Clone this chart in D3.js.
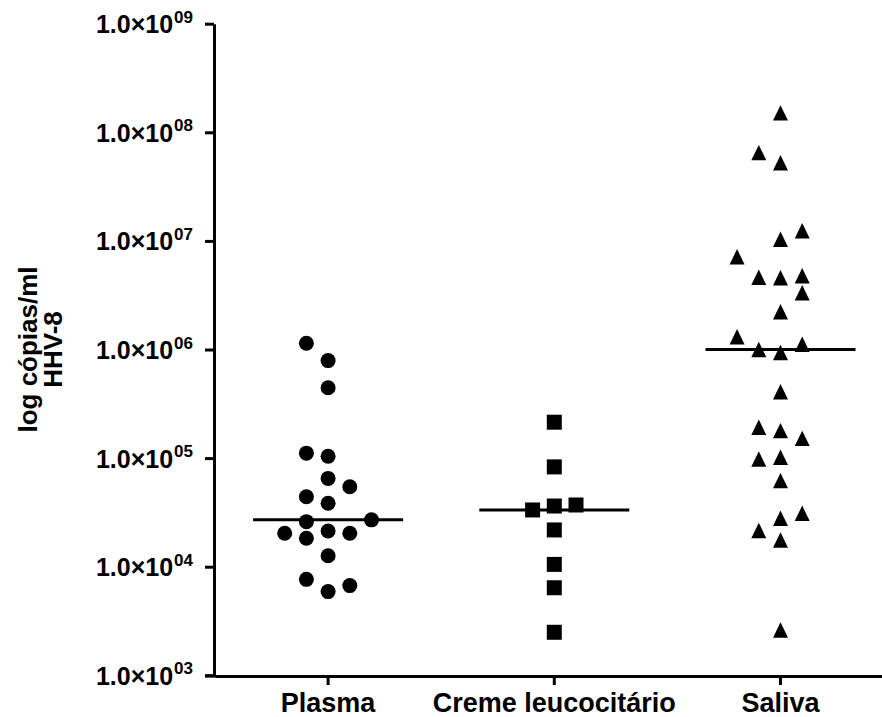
<!DOCTYPE html>
<html>
<head>
<meta charset="utf-8">
<script src="https://cdn.jsdelivr.net/npm/d3@7"></script>
<style>
  html, body { margin: 0; padding: 0; background: #fff; }
  svg { display: block; }
  text { font-family: "Liberation Sans", Arial, Helvetica, sans-serif; font-weight: bold; fill: #000; }
</style>
</head>
<body>
<svg id="chart" width="882" height="717"></svg>
<script>
// ---------------- data ----------------
const categories = ["Plasma", "Creme leucocitário", "Saliva"];

const plasmaValues = [1.14e6, 7.9e5, 4.45e5, 1.11e5, 1.04e5, 6.5e4, 5.45e4, 4.4e4, 3.84e4, 2.6e4,
                      2.7e4, 2.03e4, 1.83e4, 2.13e4, 2.03e4, 1.26e4, 7.65e3, 5.9e3, 6.7e3];
const plasmaSlots  = [-1, 0, 0, -1, 0, 0, 1, -1, 0, -1, 2, -2, -1, 0, 1, 0, -1, 0, 1];

const cremeValues = [2.14e5, 8.3e4, 3.33e4, 3.62e4, 3.70e4, 2.18e4, 1.05e4, 6.4e3, 2.49e3];
const cremeSlots  = [0, 0, -1, 0, 1, 0, 0, 0, 0];

const salivaValues = [1.51e8, 6.5e7, 5.25e7, 1.24e7, 1.035e7, 7.15e6, 4.62e6, 4.58e6, 4.78e6, 3.33e6,
                      2.23e6, 1.31e6, 1.0e6, 9.4e5, 1.12e6, 4.09e5, 1.92e5, 1.79e5, 1.52e5, 9.8e4,
                      1.02e5, 6.2e4, 3.1e4, 2.79e4, 2.15e4, 1.76e4, 2.61e3];
const salivaSlots  = [0, -1, 0, 1, 0, -2, -1, 0, 1, 1, 0, -2, -1, 0, 1, 0, -1, 0, 1, -1, 0, 0, 1, 0, -1, 0, 0];

const yTickValues = [1e3, 1e4, 1e5, 1e6, 1e7, 1e8, 1e9];
const yTickMantissa = "1.0×10";
const yTickExponents = ["03", "04", "05", "06", "07", "08", "09"];

const yTitleLines = ["log cópias/ml", "HHV-8"];

// ---------------- layout ----------------
const svg = d3.select("#chart");
const axisX = 214, axisY = 676;
const yTop = 23.7, yBottom = 675.3;
const markerSize = 15;
const slotStep = 21.7;
const medianHalf = 75;

const y = d3.scaleLog().domain([1e3, 1e9]).range([yBottom, yTop]);
const x = d3.scaleBand().domain(categories).range([215, 893.6]).paddingInner(0).paddingOuter(0);
const jitter = d3.scaleLinear().domain([-1, 1]).range([-slotStep, slotStep]);

const groups = [
  { cat: categories[0], values: plasmaValues, slots: plasmaSlots, shape: "circle" },
  { cat: categories[1], values: cremeValues, slots: cremeSlots, shape: "square" },
  { cat: categories[2], values: salivaValues, slots: salivaSlots, shape: "triangle" }
];

// custom triangle symbol (bbox-centred, slightly taller than equilateral)
const triangleType = {
  draw(ctx, size) {
    const w = Math.sqrt(size), h = w * 1.03;
    ctx.moveTo(0, -h / 2);
    ctx.lineTo(w / 2, h / 2);
    ctx.lineTo(-w / 2, h / 2);
    ctx.closePath();
  }
};
const shapeFor = {
  circle: d3.symbol(d3.symbolCircle, Math.PI * (markerSize / 2) ** 2),
  square: d3.symbol(d3.symbolSquare, markerSize * markerSize),
  triangle: d3.symbol(triangleType, markerSize * markerSize)
};

// ---------------- axes ----------------
const yAxis = d3.axisLeft(y).tickValues(yTickValues).tickSize(9).tickSizeOuter(0).tickFormat("");
const gy = svg.append("g").attr("transform", `translate(${axisX},0)`).call(yAxis);
gy.select(".domain").attr("stroke-width", 3);
gy.selectAll(".tick line").attr("stroke-width", 3);
gy.selectAll(".tick text").remove();
gy.selectAll(".tick").each(function(d, i) {
  const t = d3.select(this).append("text")
    .attr("x", -21).attr("y", 9)
    .attr("text-anchor", "end")
    .style("font-size", "25px");
  t.append("tspan").text(yTickMantissa);
  t.append("tspan").attr("dx", 1).attr("dy", -10.5).style("font-size", "17px")
    .text(yTickExponents[yTickValues.indexOf(d)]);
});

const xAxis = d3.axisBottom(x).tickSize(9).tickSizeOuter(0).tickPadding(8);
const gx = svg.append("g").attr("transform", `translate(0,${axisY})`).call(xAxis);
gx.select(".domain").attr("stroke-width", 3);
gx.selectAll(".tick line").attr("stroke-width", 3);
gx.selectAll(".tick text").style("font-size", "27px").attr("fill", "#000");
gx.append("line").attr("x1", axisX - 9).attr("x2", 216).attr("y1", 0).attr("y2", 0)
  .attr("stroke", "#000").attr("stroke-width", 3);

// y title
const yt = svg.append("g").attr("transform", "rotate(-90)");
yTitleLines.forEach((s, i) => {
  yt.append("text")
    .attr("x", -(yTop + yBottom) / 2)
    .attr("y", 37 + i * 25)
    .attr("text-anchor", "middle")
    .style("font-size", "26px")
    .text(s);
});

// ---------------- marks ----------------
groups.forEach(g => {
  const cx = x(g.cat) + x.bandwidth() / 2;
  const pts = g.values.map((v, i) => ({ v, s: g.slots[i] }));
  svg.append("g").selectAll("path").data(pts).join("path")
    .attr("d", shapeFor[g.shape])
    .attr("transform", d => `translate(${cx + jitter(d.s)},${y(d.v)})`)
    .attr("fill", "#000");
  const med = d3.median(g.values);
  svg.append("line")
    .attr("x1", cx - medianHalf).attr("x2", cx + medianHalf)
    .attr("y1", y(med)).attr("y2", y(med))
    .attr("stroke", "#000").attr("stroke-width", 3);
});
</script>
</body>
</html>
